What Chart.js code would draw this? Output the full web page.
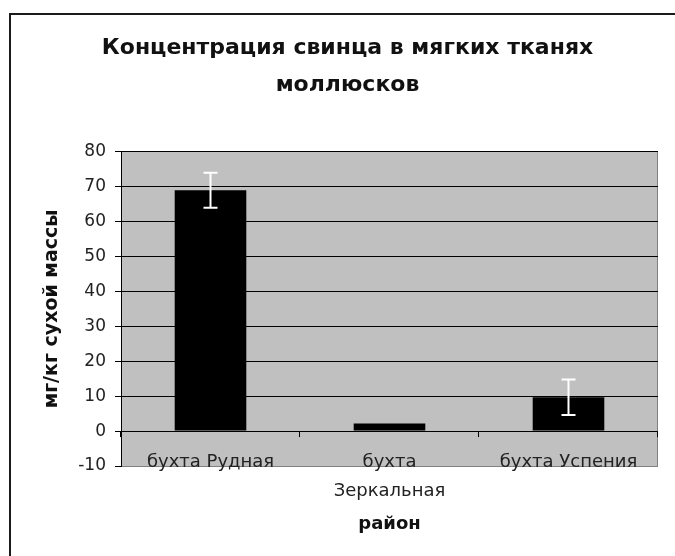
<!DOCTYPE html>
<html><head><meta charset="utf-8">
<script src="https://cdn.jsdelivr.net/npm/chart.js@4.4.0/dist/chart.umd.min.js"></script>
<style>
html,body{margin:0;padding:0;background:#fff;overflow:hidden;width:675px;height:556px}
#frame{position:absolute;left:9px;top:13px;width:720px;height:620px;border:2px solid #1a1a1a;box-sizing:border-box}
#c{position:absolute;left:0;top:0}
</style></head><body>
<div id="frame"></div>
<canvas id="c" width="675" height="556"></canvas>
<script>
const titleLines = ['Концентрация свинца в мягких тканях', 'моллюсков'];
const categories = ['бухта Рудная', ['бухта', 'Зеркальная'], 'бухта Успения'];
const values = [69, 2.2, 9.7];
const errors = [5, 0, 5.1];
const yTicks = [-10, 0, 10, 20, 30, 40, 50, 60, 70, 80];
const yTitle = 'мг/кг сухой массы';
const xTitle = 'район';

const FONT = "'DejaVu Sans', 'Liberation Sans', Arial, sans-serif";

const plotBg = {
  id: 'plotBg',
  beforeDraw(chart) {
    const {ctx, chartArea: a} = chart;
    ctx.save();
    ctx.fillStyle = '#c0c0c0';
    ctx.fillRect(a.left, a.top, a.right - a.left, a.bottom - a.top);
    ctx.strokeStyle = '#808080';
    ctx.lineWidth = 1;
    ctx.beginPath();
    ctx.moveTo(Math.round(a.right) - 0.5, a.top);
    ctx.lineTo(Math.round(a.right) - 0.5, a.bottom);
    ctx.stroke();
    ctx.restore();
  }
};

const errorBars = {
  id: 'errorBars',
  afterDatasetsDraw(chart) {
    const {ctx} = chart;
    const y = chart.scales.y;
    const meta = chart.getDatasetMeta(0);
    ctx.save();
    ctx.strokeStyle = '#ffffff';
    ctx.lineWidth = 2;
    meta.data.forEach((bar, i) => {
      const e = errors[i];
      if (!e) return;
      const x = bar.x;
      const yt = y.getPixelForValue(values[i] + e);
      const yb = y.getPixelForValue(values[i] - e);
      ctx.beginPath();
      ctx.moveTo(x, yt); ctx.lineTo(x, yb);
      ctx.moveTo(x - 7, yt); ctx.lineTo(x + 7, yt);
      ctx.moveTo(x - 7, yb); ctx.lineTo(x + 7, yb);
      ctx.stroke();
    });
    ctx.restore();
  }
};

const catTicks = {
  id: 'catTicks',
  afterDraw(chart) {
    const {ctx} = chart;
    const xs = chart.scales.x, ys = chart.scales.y;
    const y0 = ys.getPixelForValue(0);
    ctx.save();
    ctx.strokeStyle = '#000';
    ctx.lineWidth = 1;
    for (let i = 0; i <= categories.length; i++) {
      const x = Math.round(xs.getPixelForValue(i - 0.5)) - 0.5;
      ctx.beginPath();
      ctx.moveTo(x, y0);
      ctx.lineTo(x, y0 + 6);
      ctx.stroke();
    }
    ctx.restore();
  }
};

new Chart(document.getElementById('c'), {
  type: 'bar',
  data: {
    labels: categories,
    datasets: [{
      data: values,
      backgroundColor: '#000000',
      borderWidth: 0,
      barPercentage: 0.4,
      categoryPercentage: 1.0
    }]
  },
  options: {
    responsive: false,
    animation: false,
    devicePixelRatio: 1,
    layout: {padding: {left: 20, right: 0, top: 0, bottom: 21}},
    plugins: {
      legend: {display: false},
      tooltip: {enabled: false},
      title: {
        display: true,
        text: titleLines,
        color: '#111',
        font: {family: FONT, size: 22, weight: 'bold', lineHeight: 1.68},
        padding: {top: 29.5, bottom: 48.5}
      }
    },
    scales: {
      x: {
        position: 'bottom',
        grid: {display: false, drawTicks: false},
        border: {display: false},
        ticks: {
          color: '#222',
          font: {family: FONT, size: 18, lineHeight: 1.6},
          padding: -18,
          maxRotation: 0,
          autoSkip: false
        },
        title: {
          display: true,
          text: xTitle,
          color: '#111',
          font: {family: FONT, size: 18, weight: 'bold', lineHeight: 1.2},
          padding: {top: 0, bottom: 0}
        },
        afterFit(s) { s.height = 69; },
        afterUpdate(s) { s._computeLabelArea = () => null; }
      },
      y: {
        position: 'left',
        min: -10,
        max: 80,
        afterBuildTicks(s) { s.ticks = yTicks.map(v => ({value: v})); },
        grid: {
          color: ctx => (ctx.tick && ctx.tick.value === -10) ? '#808080' : '#000000',
          tickColor: '#000000',
          tickLength: 6,
          lineWidth: 1
        },
        border: {display: true, color: '#000000', width: 1},
        ticks: {
          color: '#222',
          font: {family: FONT, size: 17},
          padding: 9
        },
        title: {
          display: true,
          text: yTitle,
          color: '#111',
          font: {family: FONT, size: 19, weight: 'bold', lineHeight: 1.2},
          padding: {top: 21, bottom: 0}
        },
        afterFit(s) { s.width = 101; }
      },
      y2: {
        position: 'right',
        display: true,
        grid: {display: false, drawTicks: false},
        border: {display: false},
        ticks: {display: false},
        afterFit(s) { s.width = 17; }
      }
    }
  },
  plugins: [plotBg, errorBars, catTicks]
});
</script>
</body></html>
